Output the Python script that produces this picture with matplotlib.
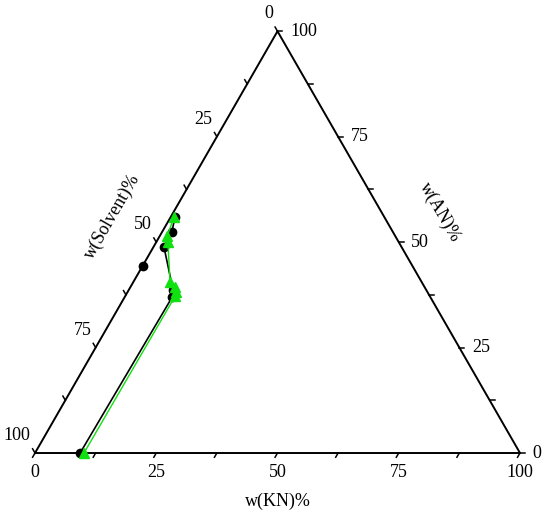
import numpy as np
import matplotlib
matplotlib.use("Agg")
import matplotlib.pyplot as plt

plt.rcParams['font.family'] = ['Liberation Serif', 'DejaVu Serif']

# compositions in mass %, solvent = 100 - KN - AN
kn_black = [9.3, 9.8, 9.1, 2.2, 2.0, 0.9]
an_black = [0.0, 37.0, 38.7, 48.8, 52.4, 56.0]

kn_single = [0.0]
an_single = [44.4]

kn_green = [10.1, 10.3, 10.0, 9.2, 7.6, 2.4, 1.5, 0.7]
an_green = [0.0, 37.2, 38.2, 39.4, 40.5, 50.0, 51.5, 56.0]

ticks = [0, 25, 50, 75, 100]
minor = [12.5, 37.5, 62.5, 87.5]

H = np.sqrt(3) / 2


def to_xy(kn, an):
    kn = np.asarray(kn, dtype=float)
    an = np.asarray(an, dtype=float)
    return kn + an / 2, an * H


fig = plt.figure(figsize=(5.5, 5.17), dpi=100)
ax = fig.add_axes([0, 0, 1, 1])
ax.set_xlim(-7.22, 106.19)
ax.set_ylim(-13.14, 93.02)
ax.axis('off')

# triangle frame
ax.plot([0, 100, 50, 0], [0, 0, 100 * H, 0], color='black', lw=1.4)

tl = 1.0
for v in ticks + minor:
    # bottom axis (KN)
    ax.plot([v, v - 0.5 * tl], [0, -H * tl], color='black', lw=1.1)
    # right axis (AN)
    x, y = to_xy(100 - v, v)
    ax.plot([x, x + tl], [y, y], color='black', lw=1.1)
    # left axis (Solvent)
    x, y = to_xy(0, 100 - v)
    ax.plot([x, x - 0.5 * tl], [y, y + H * tl], color='black', lw=1.1)

fs = 13
for v in ticks:
    ax.text(v, -4.1, str(v), ha='center', va='center', fontsize=fs)
    x, y = to_xy(100 - v, v)
    ax.text(x + 2.6, y, str(v), ha='left', va='center', fontsize=fs)
    x, y = to_xy(0, 100 - v)
    ax.text(x - 0.9, y + 3.6, str(v), ha='right', va='center', fontsize=fs)

ax.text(50, -10.0, 'w(KN)%', ha='center', va='center', fontsize=fs)
ax.text(83.5, 49.5, 'w(AN)%', ha='center', va='center', fontsize=fs, rotation=-60)
ax.text(16.0, 48.5, 'w(Solvent)%', ha='center', va='center', fontsize=fs, rotation=60)

x, y = to_xy(kn_black, an_black)
ax.plot(x, y, color='black', lw=1.2, marker='o', markersize=6)
x, y = to_xy(kn_single, an_single)
ax.plot(x, y, color='black', lw=0, marker='o', markersize=6)
x, y = to_xy(kn_green, an_green)
ax.plot(x, y, color='#11e011', lw=1.0, marker='^', markersize=7)

fig.savefig('out.png', dpi=100)
